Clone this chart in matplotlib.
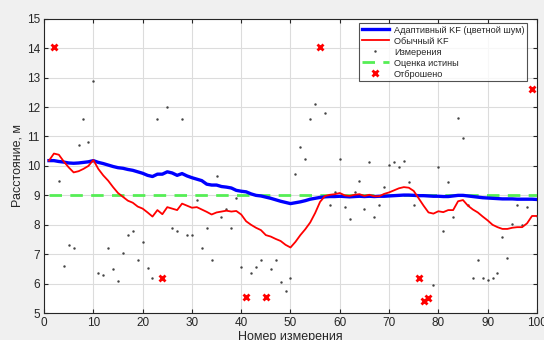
import numpy as np
import matplotlib
matplotlib.use('Agg')
import matplotlib.pyplot as plt

plt.rcParams['font.family'] = ['Liberation Sans', 'DejaVu Sans']

# --- data ---
steps = np.arange(1, 101)

measurements = [
    10.2, 14.05, 9.5, 6.6, 7.3, 7.2, 10.7, 11.6, 10.8, 12.9,
    6.35, 6.3, 7.2, 6.5, 6.1, 7.05, 7.65, 7.8, 6.8, 7.4,
    6.52, 6.2, 11.6, 6.2, 12.0, 7.88, 7.8, 11.6, 7.65, 7.65,
    8.83, 7.2, 7.88, 6.81, 9.65, 8.26, 8.55, 7.9, 8.9, 6.58,
    5.55, 6.36, 6.58, 6.81, 5.55, 6.5, 6.81, 6.05, 5.75, 6.2,
    9.73, 10.65, 10.25, 11.6, 12.1, 14.05, 11.8, 8.68, 9.13, 10.25,
    8.6, 8.2, 9.1, 9.5, 8.55, 10.12, 8.25, 8.68, 9.28, 10.04,
    10.13, 9.96, 10.18, 9.44, 8.68, 6.2, 5.4, 5.52, 5.97, 9.96,
    7.8, 9.44, 8.26, 11.62, 10.94, 8.68, 6.2, 6.81, 6.2, 6.12,
    6.2, 6.36, 7.57, 6.88, 8.02, 8.68, 8.0, 8.6, 12.6, 8.3,
]

adaptive_kf = [
    10.18, 10.18, 10.15, 10.13, 10.10, 10.09, 10.10, 10.12, 10.14, 10.18,
    10.12, 10.08, 10.03, 9.98, 9.94, 9.92, 9.88, 9.85, 9.80, 9.75,
    9.68, 9.64, 9.72, 9.72, 9.80, 9.76, 9.68, 9.74, 9.66, 9.60,
    9.55, 9.50, 9.38, 9.35, 9.35, 9.30, 9.28, 9.25, 9.17, 9.14,
    9.12, 9.05, 9.00, 8.98, 8.94, 8.90, 8.85, 8.80, 8.76, 8.72,
    8.75, 8.78, 8.82, 8.87, 8.90, 8.93, 8.95, 8.96, 8.96, 8.97,
    8.96, 8.95, 8.96, 8.97, 8.96, 8.97, 8.96, 8.97, 8.97, 8.98,
    8.99, 9.00, 9.01, 9.01, 9.00, 8.99, 8.99, 8.98, 8.97, 8.97,
    8.96, 8.96, 8.98, 9.00, 9.00, 8.98, 8.96, 8.94, 8.92, 8.91,
    8.90, 8.89, 8.88, 8.88, 8.88, 8.87, 8.87, 8.87, 8.87, 8.86,
]

regular_kf = [
    10.18, 10.42, 10.38, 10.15, 9.95, 9.78, 9.82, 9.90, 10.00, 10.20,
    9.90, 9.68, 9.50, 9.28, 9.08, 8.95, 8.82, 8.75, 8.62, 8.55,
    8.42, 8.28, 8.50, 8.36, 8.60, 8.55, 8.50, 8.72, 8.65, 8.58,
    8.60, 8.52, 8.44, 8.35, 8.42, 8.45, 8.48, 8.45, 8.47, 8.35,
    8.12, 8.00, 7.90, 7.82, 7.65, 7.60, 7.52, 7.45, 7.32, 7.23,
    7.42, 7.65, 7.85, 8.08, 8.40, 8.78, 8.98, 9.02, 9.04, 9.08,
    9.00, 8.98, 9.02, 9.04, 8.98, 9.02, 8.97, 8.97, 9.05, 9.10,
    9.17, 9.24, 9.28, 9.26, 9.15, 8.90, 8.65, 8.42, 8.38, 8.46,
    8.43, 8.50, 8.50, 8.80, 8.84, 8.65, 8.52, 8.42, 8.28, 8.15,
    8.00, 7.92, 7.86, 7.86, 7.90, 7.92, 7.92, 8.05, 8.30, 8.30,
]

true_value = 9.0

rejected_steps = [2, 24, 41, 45, 56, 76, 77, 78, 99]

# --- plot ---
meas = np.array(measurements)
rej_idx = np.array(rejected_steps) - 1

fig = plt.figure(figsize=(5.44, 3.4), dpi=100, facecolor='#f0f0f0')
ax = fig.add_axes([0.081, 0.079, 0.906, 0.866])
ax.set_facecolor('white')

ax.plot(steps, adaptive_kf, color='#0000ff', lw=2.4,
        label='Адаптивный KF (цветной шум)', zorder=4)
ax.plot(steps, regular_kf, color='#ff0000', lw=1.3,
        label='Обычный KF', zorder=5)
ax.plot(steps, meas, linestyle='none', marker='.', ms=1.5, color='#444444',
        label='Измерения', zorder=3)
ax.plot(steps, np.full(len(steps), true_value), color='#55ee55', lw=2.0,
        ls=(0, (4.5, 3)), label='Оценка истины', zorder=3.5)
ax.plot(steps[rej_idx], meas[rej_idx], linestyle='none', marker='x',
        ms=5, mew=2, color='#ff0000', label='Отброшено', zorder=6)

ax.set_xlim(0, 100)
ax.set_ylim(5, 15)
ax.set_xticks(np.arange(0, 101, 10))
ax.set_yticks(np.arange(5, 16, 1))
ax.grid(True, color='#dcdcdc', lw=0.8)
ax.set_axisbelow(True)
ax.tick_params(direction='in', length=3, labelsize=8.5, colors='#262626',
               top=True, right=True, pad=3)
for s in ax.spines.values():
    s.set_color('#262626')
    s.set_linewidth(0.8)

ax.set_xlabel('Номер измерения', fontsize=9, color='#262626', labelpad=1)
ax.set_ylabel('Расстояние, м', fontsize=9, color='#262626', labelpad=2)

leg = ax.legend(loc='upper right', bbox_to_anchor=(0.98, 0.986),
                fontsize=6.6, frameon=True, fancybox=False,
                borderpad=0.3, labelspacing=0.22, handlelength=3.0,
                handletextpad=0.5, borderaxespad=0)
leg.get_frame().set_edgecolor('#262626')
leg.get_frame().set_linewidth(0.8)
for t in leg.get_texts():
    t.set_color('#262626')

fig.savefig('out.png', dpi=100, facecolor=fig.get_facecolor())
